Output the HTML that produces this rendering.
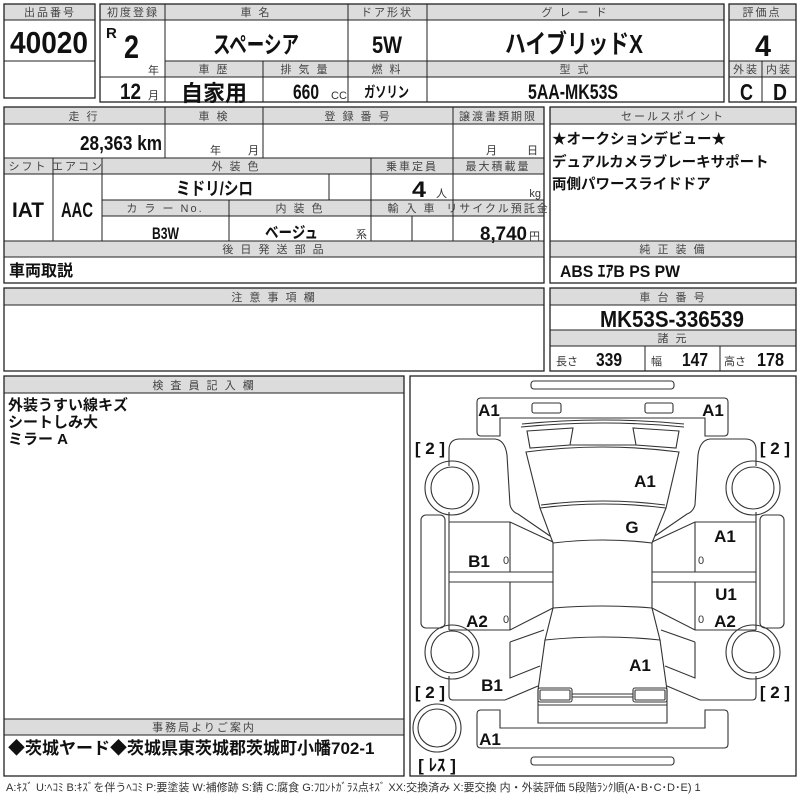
<!DOCTYPE html>
<html><head><meta charset="utf-8"><style>
html,body{margin:0;padding:0;background:#fff}
svg{display:block}
.h{font-family:"Liberation Sans","Noto Sans CJK JP",sans-serif;font-size:11px;fill:#444;text-anchor:middle;letter-spacing:2px}
.v{font-family:"Liberation Sans Narrow","Liberation Sans","Noto Sans CJK JP",sans-serif;font-weight:bold;fill:#111}
.j{font-family:"Liberation Sans","Noto Sans CJK JP",sans-serif;font-weight:bold;fill:#111}
.s{font-family:"Liberation Sans","Noto Sans CJK JP",sans-serif;font-size:11px;fill:#333}
.f{fill:#dcdcdc;stroke:none}
.b{fill:none;stroke:#222;stroke-width:1.3}
.l{stroke:#222;stroke-width:1}
.c{fill:none;stroke:#333;stroke-width:1.1}
.cl{font-family:"Liberation Sans","Noto Sans CJK JP",sans-serif;font-weight:bold;font-size:17px;fill:#111;text-anchor:middle}
</style></head><body>
<svg width="800" height="800" viewBox="0 0 800 800" xmlns="http://www.w3.org/2000/svg">
<!-- Box1 -->
<rect class="f" x="4" y="4" width="91" height="16"/>
<rect class="b" x="4" y="4" width="91" height="94"/>
<line class="l" x1="4" y1="20" x2="95" y2="20"/><line class="l" x1="4" y1="61" x2="95" y2="61"/>
<text class="h" x="50" y="16">出品番号</text>
<text class="v" x="10" y="53" font-size="31" textLength="78" lengthAdjust="spacingAndGlyphs">40020</text>
<!-- Box2 -->
<rect class="f" x="100" y="4" width="624" height="16"/>
<rect class="f" x="165" y="61" width="559" height="16"/>
<rect class="b" x="100" y="4" width="624" height="98"/>
<line class="l" x1="100" y1="20" x2="724" y2="20"/>
<line class="l" x1="165" y1="61" x2="724" y2="61"/>
<line class="l" x1="100" y1="77" x2="724" y2="77"/>
<line class="l" x1="165" y1="4" x2="165" y2="102"/>
<line class="l" x1="348" y1="4" x2="348" y2="102"/>
<line class="l" x1="427" y1="4" x2="427" y2="102"/>
<line class="l" x1="263" y1="61" x2="263" y2="102"/>
<text class="h" x="133" y="16" letter-spacing="0">初度登録</text>
<text class="h" x="256" y="16">車 名</text>
<text class="h" x="387" y="16">ドア形状</text>
<text class="h" x="575" y="16">グ レ ー ド</text>
<text class="h" x="214" y="73">車 歴</text>
<text class="h" x="305" y="73">排 気 量</text>
<text class="h" x="387" y="73">燃 料</text>
<text class="h" x="575" y="73">型 式</text>
<text class="v" x="106" y="38" font-size="15">R</text>
<text class="v" x="124" y="58" font-size="32" textLength="15" lengthAdjust="spacingAndGlyphs">2</text>
<text class="s" x="148" y="74">年</text>
<text class="v" x="120" y="99" font-size="22" textLength="21" lengthAdjust="spacingAndGlyphs">12</text>
<text class="s" x="148" y="99">月</text>
<text class="v" x="213" y="53" font-size="24" textLength="86" lengthAdjust="spacingAndGlyphs">スペーシア</text>
<text class="v" x="372" y="53" font-size="24" textLength="30" lengthAdjust="spacingAndGlyphs">5W</text>
<text class="v" x="505" y="53" font-size="26" textLength="138" lengthAdjust="spacingAndGlyphs">ハイブリッドX</text>
<text class="j" x="214" y="101" font-size="22" text-anchor="middle" style="text-anchor:middle">自家用</text>
<text class="v" x="293" y="99" font-size="21" textLength="26" lengthAdjust="spacingAndGlyphs">660</text>
<text class="s" x="331" y="99" font-size="10">CC</text>
<text class="v" x="364" y="97" font-size="15" textLength="45" lengthAdjust="spacingAndGlyphs">ガソリン</text>
<text class="v" x="528" y="99" font-size="21" textLength="90" lengthAdjust="spacingAndGlyphs">5AA-MK53S</text>
<!-- Box3 -->
<rect class="f" x="729" y="4" width="67" height="16"/>
<rect class="f" x="729" y="61" width="67" height="16"/>
<rect class="b" x="729" y="4" width="67" height="98"/>
<line class="l" x1="729" y1="20" x2="796" y2="20"/>
<line class="l" x1="729" y1="61" x2="796" y2="61"/>
<line class="l" x1="729" y1="77" x2="796" y2="77"/>
<line class="l" x1="762" y1="61" x2="762" y2="102"/>
<text class="h" x="762" y="16" letter-spacing="0">評価点</text>
<text class="h" x="746" y="73" letter-spacing="0">外装</text>
<text class="h" x="779" y="73" letter-spacing="0">内装</text>
<text class="v" x="755" y="56" font-size="30" textLength="16" lengthAdjust="spacingAndGlyphs">4</text>
<text class="v" x="740" y="100" font-size="23" textLength="13" lengthAdjust="spacingAndGlyphs">C</text>
<text class="v" x="773" y="100" font-size="23" textLength="14" lengthAdjust="spacingAndGlyphs">D</text>
<!-- Section2 -->
<rect class="f" x="4" y="107" width="540" height="17"/>
<rect class="f" x="4" y="158" width="540" height="16"/>
<rect class="f" x="102" y="200" width="442" height="16"/>
<rect class="f" x="4" y="241" width="540" height="16"/>
<rect class="b" x="4" y="107" width="540" height="176"/>
<line class="l" x1="4" y1="124" x2="544" y2="124"/>
<line class="l" x1="4" y1="158" x2="544" y2="158"/>
<line class="l" x1="4" y1="174" x2="544" y2="174"/>
<line class="l" x1="102" y1="200" x2="544" y2="200"/>
<line class="l" x1="102" y1="216" x2="544" y2="216"/>
<line class="l" x1="4" y1="241" x2="544" y2="241"/>
<line class="l" x1="4" y1="257" x2="544" y2="257"/>
<line class="l" x1="165" y1="107" x2="165" y2="158"/>
<line class="l" x1="263" y1="107" x2="263" y2="158"/>
<line class="l" x1="453" y1="107" x2="453" y2="241"/>
<line class="l" x1="53" y1="158" x2="53" y2="241"/>
<line class="l" x1="102" y1="158" x2="102" y2="241"/>
<line class="l" x1="371" y1="158" x2="371" y2="241"/>
<line class="l" x1="329" y1="174" x2="329" y2="200"/>
<line class="l" x1="229" y1="200" x2="229" y2="241"/>
<line class="l" x1="412" y1="216" x2="412" y2="241"/>
<text class="h" x="84" y="120">走 行</text>
<text class="h" x="214" y="120">車 検</text>
<text class="h" x="358" y="120">登 録 番 号</text>
<text class="h" x="498" y="120" letter-spacing="0">譲渡書類期限</text>
<text class="v" x="80" y="150" font-size="20" textLength="82" lengthAdjust="spacingAndGlyphs">28,363 km</text>
<text class="s" x="210" y="154">年</text><text class="s" x="248" y="154">月</text>
<text class="s" x="486" y="154">月</text><text class="s" x="527" y="154">日</text>
<text class="h" x="28" y="170" letter-spacing="0">シフト</text>
<text class="h" x="78" y="170" letter-spacing="0">エアコン</text>
<text class="h" x="236" y="170">外 装 色</text>
<text class="h" x="412" y="170" letter-spacing="0">乗車定員</text>
<text class="h" x="498" y="170" letter-spacing="0">最大積載量</text>
<text class="h" x="165" y="212">カ ラ ー No.</text>
<text class="h" x="300" y="212">内 装 色</text>
<text class="h" x="412" y="212">輸 入 車</text>
<text class="h" x="498" y="212" letter-spacing="0">リサイクル預託金</text>
<text class="v" x="12" y="217" font-size="21" textLength="32" lengthAdjust="spacingAndGlyphs">IAT</text>
<text class="v" x="61" y="217" font-size="21" textLength="32" lengthAdjust="spacingAndGlyphs">AAC</text>
<text class="v" x="176" y="195" font-size="18" textLength="77" lengthAdjust="spacingAndGlyphs">ミドリ/シロ</text>
<text class="v" x="412" y="197" font-size="22" textLength="14" lengthAdjust="spacingAndGlyphs">4</text>
<text class="s" x="436" y="197">人</text>
<text class="s" x="541" y="197" style="text-anchor:end">kg</text>
<text class="v" x="152" y="239" font-size="17" textLength="27" lengthAdjust="spacingAndGlyphs">B3W</text>
<text class="v" x="265" y="238" font-size="16" textLength="53" lengthAdjust="spacingAndGlyphs">ベージュ</text>
<text class="s" x="356" y="238">系</text>
<text class="v" x="480" y="240" font-size="19" textLength="47" lengthAdjust="spacingAndGlyphs">8,740</text>
<text class="s" x="529" y="240">円</text>
<text class="h" x="274" y="253">後 日 発 送 部 品</text>
<text class="j" x="9" y="276" font-size="16">車両取説</text>
<!-- Sales -->
<rect class="f" x="550" y="107" width="246" height="17"/>
<rect class="f" x="550" y="241" width="246" height="16"/>
<rect class="b" x="550" y="107" width="246" height="176"/>
<line class="l" x1="550" y1="124" x2="796" y2="124"/>
<line class="l" x1="550" y1="241" x2="796" y2="241"/>
<line class="l" x1="550" y1="257" x2="796" y2="257"/>
<text class="h" x="673" y="120" letter-spacing="5">セールスポイント</text>
<text class="j" x="552" y="144" font-size="14.5">★オークションデビュー★</text>
<text class="j" x="552" y="167" font-size="14.5">デュアルカメラブレーキサポート</text>
<text class="j" x="552" y="189" font-size="14.5">両側パワースライドドア</text>
<text class="h" x="673" y="253">純 正 装 備</text>
<text class="v" x="560" y="277" font-size="17" textLength="120" lengthAdjust="spacingAndGlyphs">ABS  ｴｱB  PS  PW</text>
<!-- 注意事項 -->
<rect class="f" x="4" y="288" width="540" height="17"/>
<rect class="b" x="4" y="288" width="540" height="83"/>
<line class="l" x1="4" y1="305" x2="544" y2="305"/>
<text class="h" x="274" y="301">注 意 事 項 欄</text>
<!-- 車台 -->
<rect class="f" x="550" y="288" width="246" height="17"/>
<rect class="f" x="550" y="330" width="246" height="16"/>
<rect class="b" x="550" y="288" width="246" height="83"/>
<line class="l" x1="550" y1="305" x2="796" y2="305"/>
<line class="l" x1="550" y1="330" x2="796" y2="330"/>
<line class="l" x1="550" y1="346" x2="796" y2="346"/>
<line class="l" x1="645" y1="346" x2="645" y2="371"/>
<line class="l" x1="720" y1="346" x2="720" y2="371"/>
<text class="h" x="673" y="301">車 台 番 号</text>
<text class="v" x="600" y="327" font-size="23" textLength="144" lengthAdjust="spacingAndGlyphs">MK53S-336539</text>
<text class="h" x="673" y="342">諸 元</text>
<text class="s" x="556" y="365" font-size="10">長さ</text>
<text class="v" x="596" y="366" font-size="18" textLength="26" lengthAdjust="spacingAndGlyphs">339</text>
<text class="s" x="651" y="365" font-size="10">幅</text>
<text class="v" x="682" y="366" font-size="18" textLength="26" lengthAdjust="spacingAndGlyphs">147</text>
<text class="s" x="724" y="365" font-size="10">高さ</text>
<text class="v" x="757" y="366" font-size="18" textLength="27" lengthAdjust="spacingAndGlyphs">178</text>
<!-- 検査員 -->
<rect class="f" x="4" y="376" width="400" height="17"/>
<rect class="f" x="4" y="719" width="400" height="16"/>
<rect class="b" x="4" y="376" width="400" height="400"/>
<line class="l" x1="4" y1="393" x2="404" y2="393"/>
<line class="l" x1="4" y1="719" x2="404" y2="719"/>
<line class="l" x1="4" y1="735" x2="404" y2="735"/>
<text class="h" x="204" y="389">検 査 員 記 入 欄</text>
<text class="j" x="8" y="410" font-size="15">外装うすい線キズ</text>
<text class="j" x="8" y="427" font-size="15">シートしみ大</text>
<text class="j" x="8" y="444" font-size="15">ミラー A</text>
<text class="h" x="204" y="731" letter-spacing="4">事務局よりご案内</text>
<text class="j" x="8" y="754" font-size="17">◆茨城ヤード◆茨城県東茨城郡茨城町小幡702-1</text>
<text class="s" x="6" y="791" font-size="9" fill="#444">A:ｷｽﾞ  U:ﾍｺﾐ  B:ｷｽﾞを伴うﾍｺﾐ  P:要塗装  W:補修跡  S:錆  C:腐食  G:ﾌﾛﾝﾄｶﾞﾗｽ点ｷｽﾞ  XX:交換済み  X:要交換   内・外装評価   5段階ﾗﾝｸ順(A･B･C･D･E)  1</text>
<!-- Diagram -->
<rect class="b" x="410" y="376" width="386" height="400"/>
<g class="c">
<rect x="531" y="381" width="143" height="8" rx="3"/>
<rect x="531" y="757" width="143" height="8" rx="3"/>
<path d="M477,402 Q477,398 481,398 L724,398 Q728,398 728,402 L728,432 Q728,436 724,436 L705,436 L705,418 L500,418 L500,436 L481,436 Q477,436 477,432 Z"/>
<path d="M477,744 Q477,748 481,748 L724,748 Q728,748 728,744 L728,714 Q728,710 724,710 L705,710 L705,728 L500,728 L500,710 L481,710 Q477,710 477,714 Z"/>
<rect x="532" y="403" width="29" height="10" rx="2"/>
<rect x="645" y="403" width="28" height="10" rx="2"/>
<path d="M521,427 Q603,419 684,427 M522,424 Q603,416 684,424"/>
<path d="M527,431 L573,428 L570,445 L530,448 Z"/>
<path d="M679,431 L633,428 L636,445 L676,448 Z"/>
<path d="M570,445 L636,445"/>
<path d="M526,452 Q603,442 679,452 L666,508 Q603,500 540,508 Z"/>
<path d="M541,505 Q603,497 665,505"/>
<path d="M540,508 L553,543 Q603,537 652,543 L666,508"/>
<path d="M553,543 L553,608 Q603,604 652,608 L652,543"/>
<path d="M553,608 L545,640 Q603,634 660,640 L652,608"/>
<path d="M545,640 L538,690 L538,723 L667,723 L667,690 L660,640"/>
<rect x="538" y="688" width="34" height="14" rx="2"/>
<rect x="540" y="690" width="30" height="10" rx="1"/>
<rect x="633" y="688" width="34" height="14" rx="2"/>
<rect x="635" y="690" width="30" height="10" rx="1"/>
<path d="M572,694 L633,694 M572,697 L633,697"/>
<path d="M538,705 L667,705"/>
<g id="half">
<path d="M449,466 L449,450 Q449,439 460,439 L495,439 Q505,440 507,455 L510,505 Q512,512 518,514 L550,536"/>
<circle cx="452" cy="488" r="27"/><circle cx="452" cy="488" r="21"/>
<circle cx="452" cy="652" r="27"/><circle cx="452" cy="652" r="21"/>
<rect x="421" y="515" width="24" height="113" rx="5"/>
<path d="M449,512 L449,630 M449,522 L510,522 L553,542 M510,522 L510,572 M449,572 L553,572 M449,582 L553,582 M510,582 L510,630 M449,630 L510,630 L553,608 M510,642 L544,630 M510,642 L510,678 L540,666 M449,676 L449,696 Q449,700 453,700 L505,700 L538,686"/>
</g>
<use href="#half" transform="translate(1205,0) scale(-1,1)"/>
<circle cx="437" cy="728" r="24"/><circle cx="437" cy="728" r="19"/>
</g>
<text class="cl" x="489" y="416">A1</text>
<text class="cl" x="713" y="416">A1</text>
<text class="cl" x="645" y="487">A1</text>
<text class="cl" x="632" y="533">G</text>
<text class="cl" x="479" y="567">B1</text>
<text class="cl" x="725" y="542">A1</text>
<text class="cl" x="726" y="600">U1</text>
<text class="cl" x="477" y="627">A2</text>
<text class="cl" x="725" y="627">A2</text>
<text class="cl" x="640" y="671">A1</text>
<text class="cl" x="492" y="691">B1</text>
<text class="cl" x="490" y="745">A1</text>
<text class="s" x="503" y="564" font-size="12">0</text>
<text class="s" x="503" y="623" font-size="12">0</text>
<text class="s" x="698" y="564" font-size="12">0</text>
<text class="s" x="698" y="623" font-size="12">0</text>
<text class="cl" x="430" y="454" font-size="16">[ 2 ]</text>
<text class="cl" x="775" y="454" font-size="16">[ 2 ]</text>
<text class="cl" x="430" y="698" font-size="16">[ 2 ]</text>
<text class="cl" x="775" y="698" font-size="16">[ 2 ]</text>
<text class="cl" x="437" y="771" font-size="14">[ ﾚｽ ]</text>
</svg>
</body></html>
